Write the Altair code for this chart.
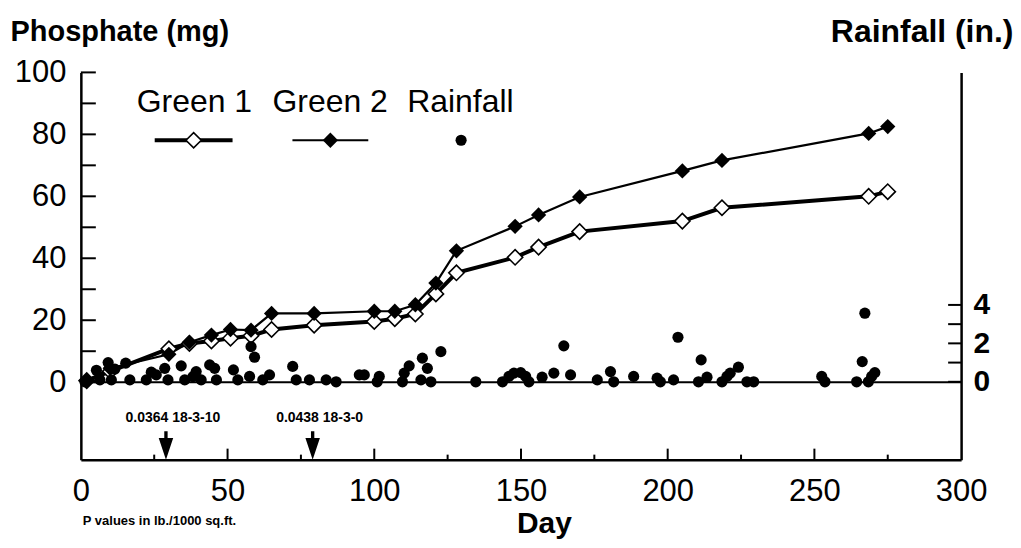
import altair as alt
import pandas as pd

# ---------------- data ----------------
days = [2, 10, 30, 37, 44.5, 51, 58, 65, 79.5, 100, 107, 114, 121, 128,
        148, 156, 170, 205, 218.5, 268.5, 275]
green1 = [0.5, 3.5, 10.8, 12.5, 13.3, 14.2, 15.0, 17.0, 18.4, 19.6, 20.5,
          22.0, 28.5, 35.3, 40.3, 43.6, 48.6, 52.0, 56.3, 60.0, 61.5]
green2 = [0.5, 4.5, 9.0, 12.9, 15.2, 17.0, 16.8, 22.2, 22.2, 22.9, 22.9,
          25.0, 32.0, 42.4, 50.3, 54.0, 59.8, 68.2, 71.6, 80.3, 82.5]

rain_days = [1.4, 5.3, 6.5, 9.3, 10.4, 11.6, 15.3, 16.7, 22.3, 24, 25.7, 28.6,
             29.7, 34.2, 35.4, 38.2, 39.3, 41, 43.9, 45.6, 46.2, 52, 53.5,
             57.5, 58, 59.2, 62, 64.3, 72.2, 73.4, 77.9, 83.6, 87, 94.9, 96.6,
             101, 101.7, 109.6, 110.2, 111.9, 115.9, 116.4, 118.1, 119.3,
             122.7, 134.6, 143.7, 145.9, 147.6, 149.9, 151.6, 152.7, 157.2,
             161.2, 164.6, 166.9, 176, 180.5, 181.6, 188.4, 196.4, 197.5, 202,
             203.5, 210.5, 211.4, 213.4, 218.5, 220.2, 221.3, 224.1, 227,
             229.3, 252.5, 253.6, 264.4, 266.3, 267.2, 268.4, 269.5, 270.6]
rain_in = [0, 0.6, 0.1, 1.0, 0.1, 0.66, 0.97, 0.1, 0.1, 0.5, 0.36, 0.7,
           0.1, 0.83, 0.1, 0.27, 0.53, 0.1, 0.88, 0.7, 0.1, 0.62, 0.1,
           0.28, 1.83, 1.28, 0.1, 0.36, 0.8, 0.1, 0.1, 0.1, 0, 0.36, 0.36,
           0, 0.28, 0, 0.45, 0.83, 0.1, 1.23, 0.7, 0,
           1.57, 0, 0, 0.28, 0.45, 0.48, 0.28, 0, 0.24,
           0.45, 1.87, 0.36, 0.1, 0.53, 0, 0.28, 0.19, 0, 0.1,
           2.32, 0, 1.14, 0.24, 0, 0.28, 0.45, 0.76, 0,
           0, 0.28, 0, 0, 1.05, 3.57, 0, 0.28, 0.48]

x_label_values = [0, 50, 100, 150, 200, 250, 300]
x_major_ticks = [50, 100, 150, 200, 250]
x_minor_ticks = [25, 75, 125, 175, 225, 275]
y_label_values = [0, 20, 40, 60, 80, 100]
y_tick_values = [0, 10, 20, 30, 40, 50, 60, 70, 80, 90, 100]
rain_label_values = [0, 2, 4]
rain_tick_values = [0, 1, 2, 3, 4]

legend_labels = ["Green 1", "Green 2", "Rainfall"]
note_days = [29, 79]
note_texts = ["0.0364 18-3-10", "0.0438 18-3-0"]
footnote = "P values in lb./1000 sq.ft."

# ---------------- layout / style ----------------
W, H = 882, 388
FONT = "Liberation Sans"
ARROW = "M-0.15,-1.55L0.15,-1.55L0.15,-0.95L0.65,-0.95L0,1L-0.65,-0.95L-0.15,-0.95Z"
DIAMOND_SIZE = 235
DOT_SIZE = 125

xscale = alt.Scale(domain=[0, 300], nice=False, zero=False)
yscale = alt.Scale(domain=[-25, 100], nice=False, zero=False)
rscale = alt.Scale(domain=[-4.05, 16.1], nice=False, zero=False)

g_df = pd.DataFrame({"day": days, "g1": green1, "g2": green2})
r_df = pd.DataFrame({"day": rain_days, "rain": rain_in})

x_axis = alt.Axis(values=x_label_values, ticks=False, grid=False,
                  labelFontSize=31, labelPadding=17, labelFont=FONT,
                  domainWidth=2.5, domainColor="black",
                  title="Day", titleFontSize=30, titleFontWeight="bold",
                  titleX=464, titleY=64, titleBaseline="middle",
                  titleAlign="center", labelFlush=False)
y_axis = alt.Axis(values=y_label_values, ticks=False, grid=False,
                  labelFontSize=31, labelPadding=15, labelFont=FONT,
                  domainWidth=2.5, domainColor="black",
                  title="Phosphate (mg)", titleAngle=0, titleX=-71,
                  titleY=-41, titleAlign="left", titleBaseline="middle",
                  titleFontSize=29, titleFontWeight="bold")
r_axis = alt.Axis(orient="right", values=rain_label_values, ticks=False,
                  grid=False, labelFontSize=30, labelFontWeight="bold",
                  labelPadding=12, labelFont=FONT, labelOverlap=False,
                  domainWidth=2.5, domainColor="black",
                  title="Rainfall (in.)", titleAngle=0, titleX=52,
                  titleY=-41, titleAlign="right", titleBaseline="middle",
                  titleFontSize=32, titleFontWeight="bold")


def X(field="day"):
    return alt.X(f"{field}:Q", scale=xscale, axis=x_axis)


def Y(field):
    return alt.Y(f"{field}:Q", scale=yscale, axis=y_axis)


def R(field):
    return alt.Y(f"{field}:Q", scale=rscale, axis=r_axis)


line1 = alt.Chart(g_df).mark_line(color="black", strokeWidth=4).encode(
    x=X(), y=Y("g1"))
line2 = alt.Chart(g_df).mark_line(color="black", strokeWidth=2.2).encode(
    x=X(), y=Y("g2"))
pts1 = alt.Chart(g_df).mark_point(shape="diamond", filled=True, fill="white",
                                  stroke="black", strokeWidth=1.6,
                                  size=DIAMOND_SIZE, opacity=1).encode(
    x=X(), y=Y("g1"))
pts2 = alt.Chart(g_df).mark_point(shape="diamond", filled=True, color="black",
                                  size=DIAMOND_SIZE, opacity=1).encode(
    x=X(), y=Y("g2"))

zero_line = alt.Chart(pd.DataFrame({"v": [0]})).mark_rule(
    color="black", strokeWidth=2).encode(y=Y("v"))

y_ticks = alt.Chart(pd.DataFrame({"v": y_tick_values})).mark_rule(
    color="black", strokeWidth=2).encode(
    y=Y("v"), x=alt.value(0), x2=alt.value(15))
x_ticks_major = alt.Chart(pd.DataFrame({"d": x_major_ticks})).mark_rule(
    color="black", strokeWidth=2).encode(
    x=X("d"), y=alt.value(H), y2=alt.value(H - 11))
x_ticks_minor = alt.Chart(pd.DataFrame({"d": x_minor_ticks})).mark_rule(
    color="black", strokeWidth=2).encode(
    x=X("d"), y=alt.value(H), y2=alt.value(H - 5))

notes_df = pd.DataFrame({"d": note_days, "t": note_texts})
arrows = alt.Chart(notes_df).mark_point(shape=ARROW, filled=True, color="black",
                                        size=500, opacity=1).encode(
    x=X("d"), y=alt.value(377))
note_text = alt.Chart(notes_df).mark_text(
    font=FONT, fontSize=14, fontWeight="bold", dx=7, baseline="middle",
    color="black").encode(x=X("d"), y=alt.value(346), text="t:N")
foot = alt.Chart(pd.DataFrame({"t": [footnote]})).mark_text(
    font=FONT, fontSize=13, fontWeight="bold", align="left",
    baseline="middle", color="black").encode(
    x=alt.value(2), y=alt.value(450), text="t:N")

# legend
legend_layers = []
legend_x = [56, 192, 327]
for lab, lx in zip(legend_labels, legend_x):
    legend_layers.append(
        alt.Chart(pd.DataFrame({"t": [lab]})).mark_text(
            font=FONT, fontSize=32, align="left", baseline="alphabetic",
            color="black").encode(x=alt.value(lx), y=alt.value(40), text="t:N"))
one = pd.DataFrame({"k": [legend_labels[0]]})
leg_l1 = alt.Chart(one).mark_rule(color="black", strokeWidth=4).encode(
    x=alt.value(74), x2=alt.value(152), y=alt.value(68))
leg_p1 = alt.Chart(one).mark_point(shape="diamond", filled=True, fill="white",
                                   stroke="black", strokeWidth=1.6,
                                   size=DIAMOND_SIZE, opacity=1).encode(
    x=alt.value(113), y=alt.value(68))
leg_l2 = alt.Chart(one).mark_rule(color="black", strokeWidth=2.2).encode(
    x=alt.value(212), x2=alt.value(288), y=alt.value(68))
leg_p2 = alt.Chart(one).mark_point(shape="diamond", filled=True, color="black",
                                   size=DIAMOND_SIZE, opacity=1).encode(
    x=alt.value(250), y=alt.value(68))
leg_p3 = alt.Chart(one).mark_point(shape="circle", filled=True, color="black",
                                   size=DOT_SIZE, opacity=1).encode(
    x=alt.value(381), y=alt.value(68))

left_group = alt.layer(line1, line2, zero_line, y_ticks, x_ticks_major,
                       x_ticks_minor, pts1, pts2, arrows, note_text, foot,
                       *legend_layers, leg_l1, leg_l2, leg_p1, leg_p2, leg_p3)

rain_pts = alt.Chart(r_df).mark_point(shape="circle", filled=True,
                                      color="black", size=DOT_SIZE,
                                      opacity=1).encode(x=X(), y=R("rain"))
rain_ticks = alt.Chart(pd.DataFrame({"v": rain_tick_values})).mark_rule(
    color="black", strokeWidth=2).encode(
    y=R("v"), x=alt.value(W), x2=alt.value(W - 13))
rain_group = alt.layer(rain_ticks, rain_pts)

chart = alt.layer(left_group, rain_group).resolve_scale(y="independent").properties(
    width=W, height=H,
    padding={"left": 73, "top": 64, "right": 52, "bottom": 80},
    autosize=alt.AutoSizeParams(type="none"),
    background="white",
).configure_view(stroke="transparent").configure_axis(
    labelFont=FONT, titleFont=FONT, labelColor="black", titleColor="black")

chart.save("out.html", embed_options={"renderer": "svg", "actions": False})
